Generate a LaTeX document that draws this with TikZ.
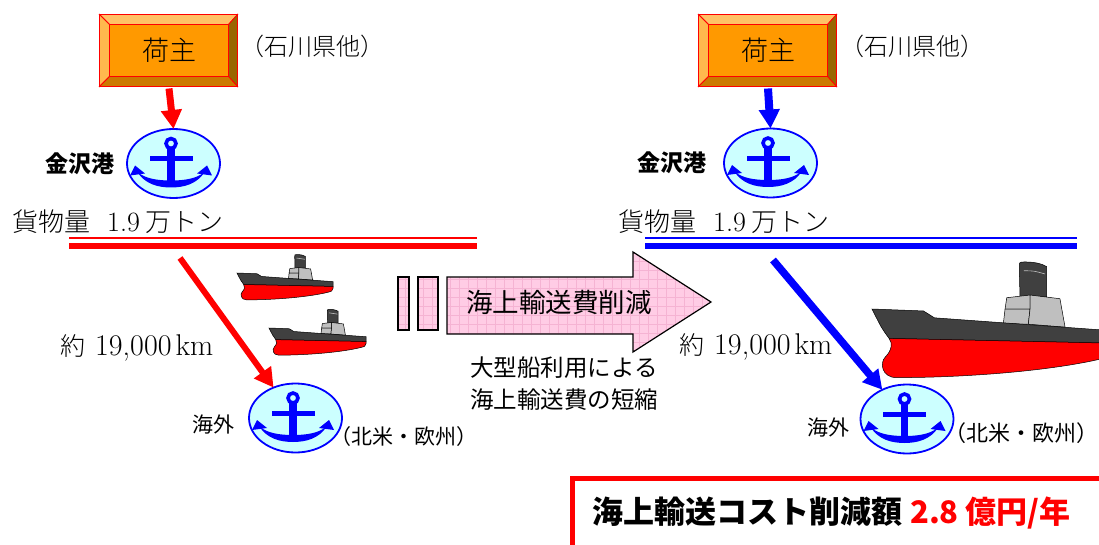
\documentclass[tikz,border=0pt]{standalone}
\usepackage{fontspec}
\newfontfamily\jp{Noto Sans CJK JP}
\newfontfamily\jpl{Noto Sans CJK JP Light}
\usetikzlibrary{arrows.meta,calc,shapes.geometric}

\definecolor{orangefill}{HTML}{FF9900}
\definecolor{bevtop}{HTML}{FFC266}
\definecolor{bevleft}{HTML}{FFB84D}
\definecolor{bevright}{HTML}{996600}
\definecolor{bevbottom}{HTML}{CC7A00}
\definecolor{portfill}{HTML}{CCFFFF}
\definecolor{pinkfill}{HTML}{FFCCE5}
\definecolor{pinkgrid}{HTML}{F5B3D3}
\definecolor{hulldark}{HTML}{404040}
\definecolor{deckgray}{HTML}{BFBFBF}

\tikzset{
  jp/.style={font=\jp\fontsize{#1}{#1}\selectfont, inner sep=0pt},
  jpl/.style={font=\jpl\fontsize{#1}{#1}\selectfont, inner sep=0pt},
  jpb/.style={font=\jp\bfseries\fontsize{#1}{#1}\selectfont, inner sep=0pt},
  shipper/.style={rectangle, draw=red, line width=1.5pt, fill=orangefill,
    minimum width=119pt, minimum height=52pt, outer sep=0pt, inner sep=0pt,
    font=\jpl\fontsize{27}{27}\selectfont},
  port/.style={ellipse, draw=blue, line width=1.8pt, fill=portfill,
    minimum width=93pt, minimum height=69pt, inner sep=0pt, outer sep=0pt},
  flowarrow/.style={line width=7pt, -{Triangle[width=20pt,length=19pt]}},
  pics/anchorsym/.style={code={
    \draw[blue, line width=3.6pt] (0,-20) circle[radius=5pt];
    \fill[blue] (-21.5,-7) rectangle (21.5,-2);
    \fill[blue] (-3.7,-15.5) rectangle (3.7,20);
    \fill[blue] (-34,8) .. controls (-26,21) and (-12,24) .. (0,24)
      .. controls (12,24) and (26,21) .. (34,8) -- (30,11)
      .. controls (22,16) and (10,17) .. (0,17)
      .. controls (-10,17) and (-22,16) .. (-30,11) -- cycle;
    \fill[blue] (-36,2) -- (-41,12) -- (-26,10) -- cycle;
    \fill[blue] (36,2) -- (41,12) -- (26,10) -- cycle;
  }},
  pics/ship/.style={code={
    % funnel
    \filldraw[fill=hulldark, draw=black, line width=0.5pt]
      (60.4,-5) -- (60.1,-17) .. controls (60.1,-19.2) .. (62.5,-19.2)
      .. controls (66.5,-19.2) and (69.5,-18.4) .. (71.3,-17.3) -- (71.3,-5) -- cycle;
    \draw[deckgray, line width=0.6pt] (62,-15.6) .. controls (66,-15.6) .. (70.6,-14.3);
    % bridge blocks
    \filldraw[fill=deckgray, draw=black, line width=0.5pt]
      (54.3,0) -- (55,-4.6) -- (64.5,-5.7) -- (64.5,0) -- cycle;
    \filldraw[fill=deckgray, draw=black, line width=0.5pt]
      (53.6,6) -- (54.3,0) -- (64.5,0) -- (63.8,6.2) -- cycle;
    \filldraw[fill=deckgray, draw=black, line width=0.5pt]
      (64.5,-5.7) -- (76.7,-4.2) -- (78.8,7.4) -- (63.8,6.2) -- (64.5,0) -- cycle;
    % upper hull
    \filldraw[fill=hulldark, draw=black, line width=0.5pt]
      (0,0) -- (21,0.8) -- (25.5,3.6) -- (100,9) -- (100,14) -- (7,12)
      .. controls (4,8) .. (0,0) -- cycle;
    % lower hull
    \filldraw[fill=red, draw=black, line width=0.5pt]
      (7,12) -- (100,14) -- (100,16) .. controls (99,19) .. (95,20)
      .. controls (75,25) and (40,28) .. (10,28)
      .. controls (4,28) and (3,22) .. (5.5,19.5)
      .. controls (8,17) and (8.5,14) .. (7,12) -- cycle;
  }}
}

\newcommand\bevelbox[1]{%
  \coordinate (#1a) at ($(#1.north west)+(-10,-10)$);
  \coordinate (#1b) at ($(#1.north east)+(9,-10)$);
  \coordinate (#1c) at ($(#1.south east)+(9,10)$);
  \coordinate (#1d) at ($(#1.south west)+(-10,10)$);
  \filldraw[fill=bevtop, draw=red, line width=0.8pt]
    (#1a) -- (#1b) -- (#1.north east) -- (#1.north west) -- cycle;
  \filldraw[fill=bevleft, draw=red, line width=0.8pt]
    (#1a) -- (#1.north west) -- (#1.south west) -- (#1d) -- cycle;
  \filldraw[fill=bevright, draw=red, line width=0.8pt]
    (#1b) -- (#1c) -- (#1.south east) -- (#1.north east) -- cycle;
  \filldraw[fill=bevbottom, draw=red, line width=0.8pt]
    (#1d) -- (#1.south west) -- (#1.south east) -- (#1c) -- cycle;
  \draw[red, line width=1.8pt] (#1a) rectangle (#1c);
  \draw[red, line width=1.5pt] (#1.north west) rectangle (#1.south east);
}

% cargo volume and distance captions
\newcommand\cargotext{貨物量\hspace{17pt}{\rmfamily\fontsize{28}{28}\selectfont 1.9}\hspace{6pt}万トン}
\newcommand\disttext{約\hspace{10pt}{\rmfamily\fontsize{30}{30}\selectfont 19,000\hspace{4pt}km}}

\begin{document}
\begin{tikzpicture}[x=1pt, y=-1pt]
\useasboundingbox (0,0) rectangle (1099,545);

% ---------- current route (left) ----------
\node[shipper] (shipperL) at (169,50.5) {荷主};
\bevelbox{shipperL}
\node[jpl=24] (ownerL) at (312,46) {（石川県他）};

\node[port] (portL) at (173.5,163.5) {};
\pic at ($(portL.center)+(-2.5,0)$) {anchorsym};
\node[jpb=23] (kanazawaL) at (80,164) {金沢港};
\draw[flowarrow, red] (shipperL.south) ++(0,12) coordinate (sLout) (sLout) -- (portL.north);

\node[jpl=26, anchor=base west] (cargoL) at (12,232) {\cargotext};
\draw[red, line width=2pt] (69,238) -- (477,238);
\draw[red, line width=6.5pt] (69,246) -- (477,246);

\pic[scale=0.96] at (237,273) {ship};
\pic[scale=0.97] at (269,328) {ship};

\node[port] (abroadL) at (295.5,418) {};
\pic at ($(abroadL.center)+(-2.5,0)$) {anchorsym};
\node[jp=21] (abroadTxtL) at (213,425) {海外};
\node[jp=21] (regionL) at (404,437) {（北米・欧州）};
\coordinate (routeL) at (180,258);
\draw[flowarrow, red, line width=6pt] (routeL) -- (abroadL);
\node[jpl=25, anchor=base west] (distL) at (60,355) {\disttext};

% ---------- reduction arrow ----------
\begin{scope}
  \clip (398,277) rectangle (409,330) (418,277) rectangle (438,330)
    (447,277) -- (633,277) -- (633,252) -- (711,302) -- (633,352) -- (633,334) -- (447,334) -- cycle;
  \fill[pinkfill] (390,245) rectangle (715,360);
  \draw[pinkgrid, line width=0.5pt, step=9pt] (390,245) grid (715,360);
\end{scope}
\draw[black, line width=1.5pt] (398,277) rectangle (409,330);
\draw[black, line width=1.5pt] (418,277) rectangle (438,330);
\draw[black, line width=1.2pt]
  (447,277) -- (633,277) -- (633,252) -- (711,302) -- (633,352) -- (633,334) -- (447,334) -- cycle;
\node[jp=26.5] (reduce) at (559,302) {海上輸送費削減};
\node[anchor=west, align=left, inner sep=0pt, font=\jp\fontsize{23.5}{32}\selectfont] (reason) at (470,384)
  {大型船利用による\\海上輸送費の短縮};

% ---------- large ship route (right) ----------
\node[shipper] (shipperR) at (768,50.5) {荷主};
\bevelbox{shipperR}
\node[jpl=24] (ownerR) at (912,46) {（石川県他）};

\node[port] (portR) at (770.5,163) {};
\pic at ($(portR.center)+(-2.5,0)$) {anchorsym};
\node[jpb=23] (kanazawaR) at (672,163) {金沢港};
\draw[flowarrow, blue, line width=8pt] (shipperR.south) ++(0,12) coordinate (sRout) (sRout) -- (portR.north);

\node[jpl=26, anchor=base west] (cargoR) at (618,232) {\cargotext};
\draw[blue, line width=2pt] (645,238) -- (1077,238);
\draw[blue, line width=6.5pt] (645,246) -- (1077,246);

\pic[scale=2.45] at (872,309) {ship};

\node[port] (abroadR) at (907,419) {};
\pic at ($(abroadR.center)+(-2.5,0)$) {anchorsym};
\node[jp=21] (abroadTxtR) at (828,428) {海外};
\node[jp=22] (regionR) at (1021,433) {（北米・欧州）};
\coordinate (routeR) at (773,260);
\draw[flowarrow, blue, line width=7.5pt] (routeR) -- (abroadR);
\node[jpl=25, anchor=base west] (distR) at (679,354) {\disttext};

% ---------- annual saving ----------
\draw[red, line width=5pt] (572.5,550) -- (572.5,478.5) -- (1105,478.5);
\node[jpb=31, anchor=west] (saving) at (592,513)
  {海上輸送コスト削減額\hspace{8pt}\textcolor{red}{2.8 億円/年}};
\end{tikzpicture}
\end{document}
